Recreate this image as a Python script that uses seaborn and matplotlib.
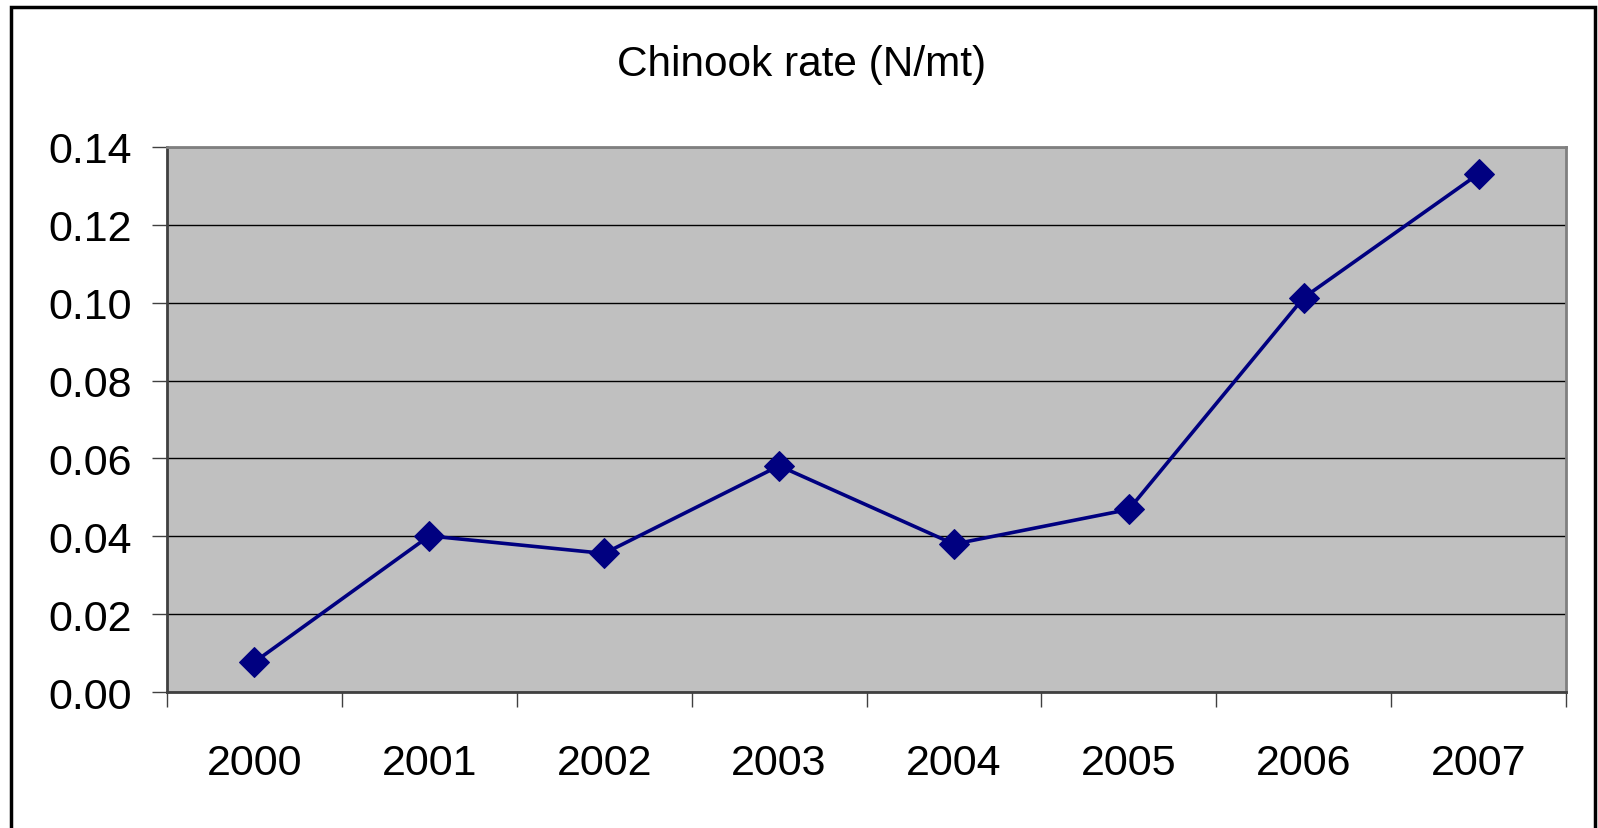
import numpy as np
import pandas as pd
import matplotlib.pyplot as plt
import matplotlib.patches as patches
import seaborn as sns

# Data
years = ["2000", "2001", "2002", "2003", "2004", "2005", "2006", "2007"]
rate = [0.0077, 0.0401, 0.0356, 0.0581, 0.0380, 0.0469, 0.1013, 0.1331]
y_ticks = [0.00, 0.02, 0.04, 0.06, 0.08, 0.10, 0.12, 0.14]

sns.set_theme(style="white")
plt.rcParams['font.family'] = ['Liberation Sans', 'DejaVu Sans']
plt.rcParams['text.color'] = 'black'
plt.rcParams['xtick.labelcolor'] = 'black'
plt.rcParams['ytick.labelcolor'] = 'black'

df = pd.DataFrame({"pos": np.arange(len(years)), "year": years, "rate": rate})

fig = plt.figure(figsize=(15.98, 8.29), dpi=100)
ax = fig.add_axes([0.1045, 0.164, 0.8755, 0.6575])
ax.set_facecolor("#C0C0C0")

# horizontal gridlines
ax.set_ylim(0, 0.14)
ax.set_yticks(y_ticks)
ax.set_yticklabels([f"{v:.2f}" for v in y_ticks])
ax.yaxis.grid(True, color="black", linewidth=1.0)
ax.set_axisbelow(True)

sns.lineplot(data=df, x="pos", y="rate", ax=ax, color="#000080",
             linewidth=2.6, marker="D", markersize=15.5,
             markeredgecolor="#000080", markerfacecolor="#000080", sort=False)

ax.set_xlim(-0.5, len(years) - 0.5)
ax.set_xticks(np.arange(len(years)))
ax.set_xticklabels(years)
ax.set_xticks(np.arange(len(years) + 1) - 0.5, minor=True)
ax.tick_params(axis="x", which="major", length=0, pad=37, labelsize=31,
               labelcolor="black")
ax.tick_params(axis="x", which="minor", length=11, width=1.0, color="#404040",
               direction="out", bottom=True)
ax.tick_params(axis="y", length=11, width=1.0, color="#404040", direction="out",
               left=True, pad=14.5, labelsize=31, labelcolor="black")
ax.set_xlabel("")
ax.set_ylabel("")

for s in ax.spines.values():
    s.set_color("#808080")
    s.set_linewidth(2)
ax.spines["bottom"].set_color("#404040")
ax.spines["left"].set_color("#404040")

fig.text(0.5015, 0.922, "Chinook rate (N/mt)", ha="center", va="center",
         fontsize=30.5, color="black")

# outer chart frame (bottom edge is cropped in the original)
frame = patches.Rectangle((11 / 1598, -0.05), (1595 - 11) / 1598, 1 - 7.5 / 829 + 0.05,
                          transform=fig.transFigure, fill=False, edgecolor="black",
                          linewidth=2.5, clip_on=False)
fig.patches.append(frame)

fig.savefig("out.png", dpi=100)
plt.close(fig)
